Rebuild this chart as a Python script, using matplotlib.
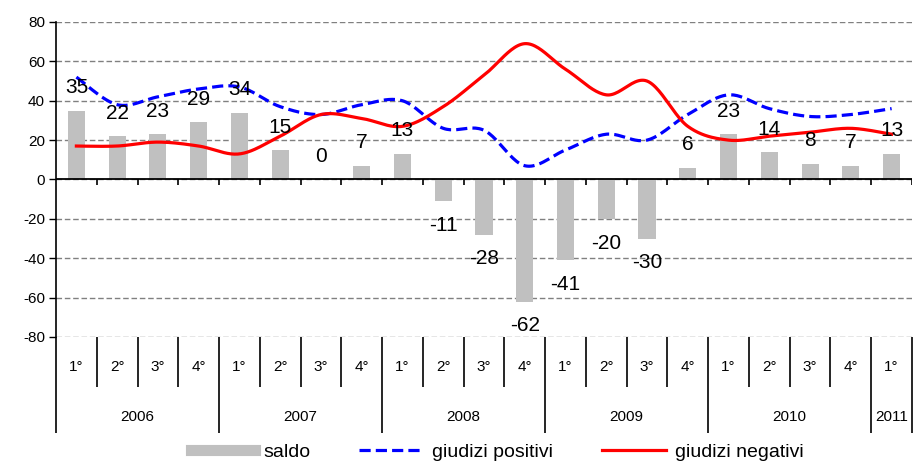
import numpy as np
import matplotlib
matplotlib.use('Agg')
import matplotlib.pyplot as plt
from matplotlib.lines import Line2D

# Dati
anni = ['2006', '2007', '2008', '2009', '2010', '2011']
trimestri = ['1°', '2°', '3°', '4°'] * 5 + ['1°']
saldo = [35, 22, 23, 29, 34, 15, 0, 7, 13, -11, -28, -62, -41, -20, -30, 6, 23, 14, 8, 7, 13]
giudizi_positivi = [52, 38, 42, 46, 47, 37, 33, 38, 40, 26, 25, 7, 15, 23, 20, 33, 43, 36, 32, 33, 36]
giudizi_negativi = [17, 17, 19, 17, 13, 22, 33, 31, 27, 37, 53, 69, 56, 43, 50, 27, 20, 22, 24, 26, 23]

plt.rcParams['font.family'] = ['Liberation Sans', 'DejaVu Sans']
plt.rcParams['axes.unicode_minus'] = False


def smooth(x, y, n=24):
    # linea "smussata" tipo Excel (Catmull-Rom)
    pts = np.column_stack([x, y]).astype(float)
    pad = np.vstack([pts[0], pts, pts[-1]])
    t = np.linspace(0, 1, n, endpoint=False)[:, None]
    segs = []
    for i in range(len(pts) - 1):
        p0, p1, p2, p3 = pad[i], pad[i + 1], pad[i + 2], pad[i + 3]
        segs.append(0.5 * (2 * p1 + (p2 - p0) * t
                           + (2 * p0 - 5 * p1 + 4 * p2 - p3) * t ** 2
                           + (3 * p1 - p0 - 3 * p2 + p3) * t ** 3))
    segs.append(pts[-1:])
    out = np.vstack(segs)
    return out[:, 0], out[:, 1]


fig = plt.figure(figsize=(9.13, 4.61), dpi=100)
ax = fig.add_axes([56 / 913, 1 - 337 / 461, (912 - 56) / 913, (337 - 22) / 461])

x = np.arange(len(saldo))
ax.bar(x, saldo, width=0.42, color='#C0C0C0', zorder=2)

tratteggio = (0, (3.5, 1.6))
xs, ys = smooth(x, giudizi_positivi)
ax.plot(xs, ys, color='#0000FF', lw=2.3, linestyle=tratteggio, zorder=3)
xs, ys = smooth(x, giudizi_negativi)
ax.plot(xs, ys, color='#FF0000', lw=2.3, zorder=3)

# etichette dei valori
for i, v in enumerate(saldo):
    off = 16.5 if v >= 0 else -17.5
    ax.annotate(str(v), (i, v), xytext=(0, off), textcoords='offset points',
                ha='center', va='center', fontsize=15, zorder=4)

ax.set_xlim(-0.5, len(saldo) - 0.5)
ax.set_ylim(-80, 80)
ax.set_yticks(range(-80, 81, 20))
ax.tick_params(axis='y', length=5, width=1, labelsize=11, pad=3)
ax.set_xticks([])
ax.yaxis.grid(True, linestyle=(0, (4, 2)), color='#808080', lw=1)
ax.set_axisbelow(True)
for s in ['top', 'right', 'bottom']:
    ax.spines[s].set_visible(False)
ax.spines['left'].set_linewidth(1.2)
ax.axhline(0, color='black', lw=1.3, zorder=2.5)

# tacche sull'asse zero
bordi = np.arange(len(saldo) + 1) - 0.5
ax.vlines(bordi[1:], -2.6, 0, color='black', lw=1.2, zorder=2.5)

# tabella delle categorie sotto il grafico
trans = ax.get_xaxis_transform()
for k, b in enumerate(bordi):
    lungo = k % 4 == 0 or k == len(bordi) - 1
    ax.vlines(b, -0.305 if lungo else -0.159, 0, transform=trans,
              color='black', lw=1.2, clip_on=False)
for i, q in enumerate(trimestri):
    ax.text(i, -0.095, q, transform=trans, ha='center', va='center', fontsize=11)
for j, a in enumerate(anni):
    inizio = j * 4
    fine = min(inizio + 4, len(saldo)) - 1
    ax.text((inizio + fine) / 2, -0.254, a, transform=trans,
            ha='center', va='center', fontsize=11)

handles = [Line2D([], [], color='#C0C0C0', lw=8),
           Line2D([], [], color='#0000FF', lw=2.3, linestyle=tratteggio),
           Line2D([], [], color='#FF0000', lw=2.3)]
fig.legend(handles, ['saldo', 'giudizi positivi', 'giudizi negativi'],
           loc='center', bbox_to_anchor=(497 / 913, 1 - 452 / 461), ncol=3,
           frameon=False, fontsize=14, handlelength=3.3, handletextpad=0.45,
           columnspacing=2.5)

fig.savefig('out.png', dpi=100)
